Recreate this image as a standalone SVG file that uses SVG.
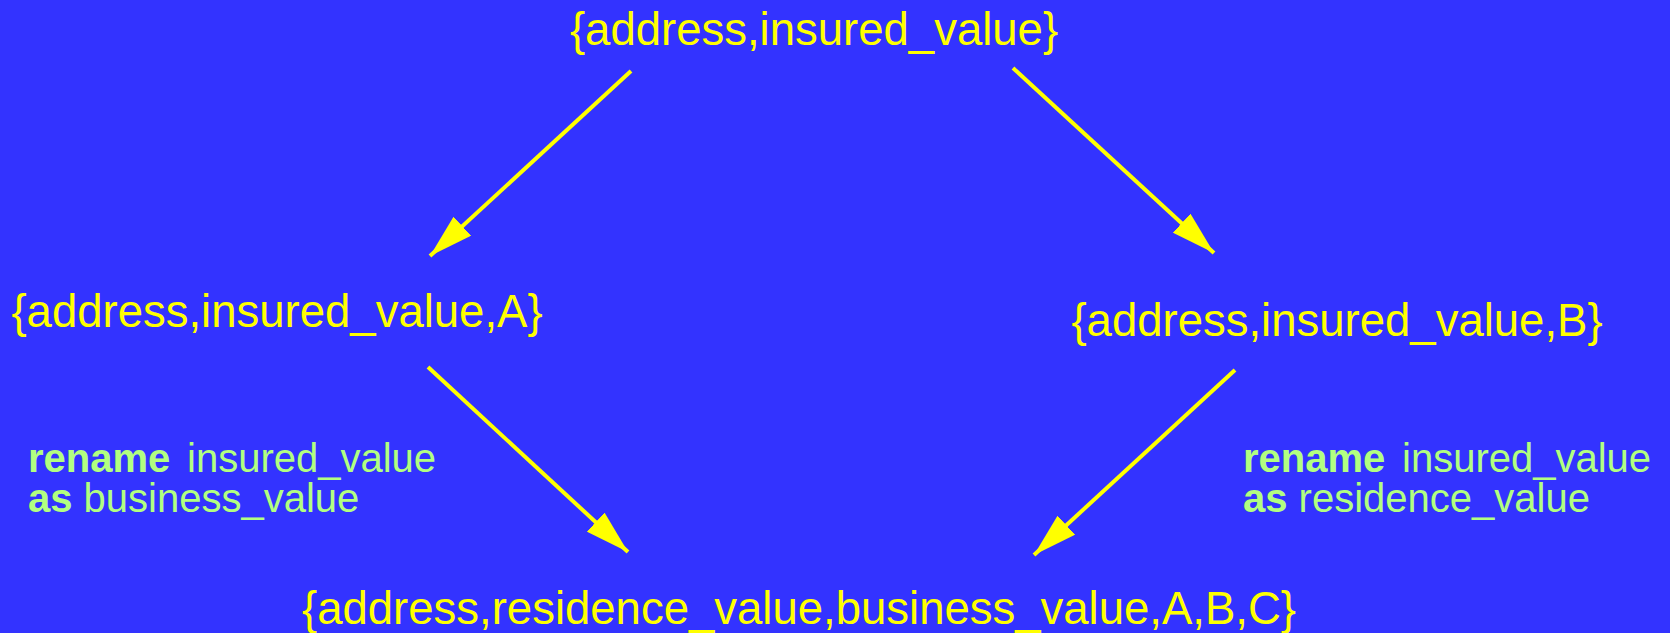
<svg xmlns="http://www.w3.org/2000/svg" width="1670" height="633" viewBox="0 0 1670 633">
<style>
.node{font-family:"Liberation Sans",Arial,sans-serif;font-size:45.5px;fill:#ffff00;text-anchor:middle}
.lbl{font-family:"Liberation Sans",Arial,sans-serif;font-size:40px;fill:#b2ff80}
.kw{font-weight:bold}
.edge{stroke:#ffff00;stroke-width:4;fill:none;marker-end:url(#ah)}
</style>
<defs>
<marker id="ah" markerUnits="userSpaceOnUse" viewBox="0 0 44 26" markerWidth="44" markerHeight="26" refX="44" refY="13" orient="auto">
<path d="M0,0 L44,13 L0,26 z" fill="#ffff00"/>
</marker>
</defs>
<rect width="1670" height="633" fill="#3333ff"/>
<g id="connectors">
<line class="edge" x1="631" y1="71" x2="430" y2="256"/>
<line class="edge" x1="1013" y1="68" x2="1214" y2="253"/>
<line class="edge" x1="428" y1="367" x2="628" y2="552"/>
<line class="edge" x1="1235" y1="370" x2="1034" y2="555"/>
</g>
<g id="top"><text class="node" x="814" y="45">{address,insured_value}</text></g>
<g id="left"><text class="node" x="277" y="327">{address,insured_value,A}</text></g>
<g id="right"><text class="node" x="1337" y="336">{address,insured_value,B}</text></g>
<g id="bottom"><text class="node" x="799" y="624">{address,residence_value,business_value,A,B,C}</text></g>
<g id="label-left">
<text class="lbl" y="472"><tspan class="kw" x="28">rename</tspan><tspan x="187">insured_value</tspan></text>
<text class="lbl" x="28" y="512"><tspan class="kw">as</tspan> business_value</text>
</g>
<g id="label-right">
<text class="lbl" y="472"><tspan class="kw" x="1243">rename</tspan><tspan x="1402">insured_value</tspan></text>
<text class="lbl" x="1243" y="512"><tspan class="kw">as</tspan> residence_value</text>
</g>
</svg>
